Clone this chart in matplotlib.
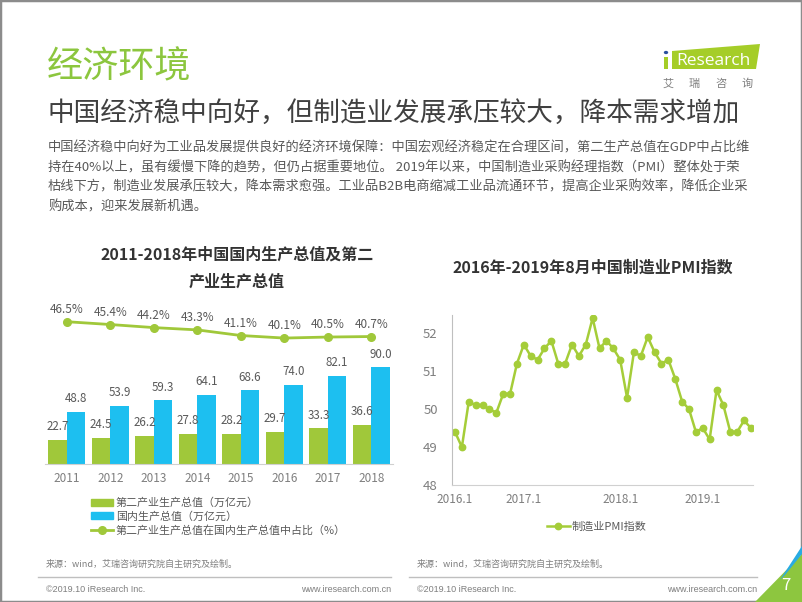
import matplotlib
matplotlib.use("Agg")
import matplotlib.pyplot as plt
from matplotlib.patches import Polygon, Rectangle, Circle, Patch
from matplotlib.lines import Line2D

plt.rcParams["font.family"] = ["Noto Sans CJK SC", "DejaVu Sans"]

W, H = 802, 602

# --- data: left chart (万亿元 / %)
YEARS = ["2011", "2012", "2013", "2014", "2015", "2016", "2017", "2018"]
SECONDARY = [22.7, 24.5, 26.2, 27.8, 28.2, 29.7, 33.3, 36.6]
GDP = [48.8, 53.9, 59.3, 64.1, 68.6, 74.0, 82.1, 90.0]
SHARE = [46.5, 45.4, 44.2, 43.3, 41.1, 40.1, 40.5, 40.7]

# --- data: right chart, monthly PMI 2016.1 - 2019.8
PMI = [49.4, 49.0, 50.2, 50.1, 50.1, 50.0, 49.9, 50.4, 50.4, 51.2, 51.7, 51.4,
       51.3, 51.6, 51.8, 51.2, 51.2, 51.7, 51.4, 51.7, 52.4, 51.6, 51.8, 51.6,
       51.3, 50.3, 51.5, 51.4, 51.9, 51.5, 51.2, 51.3, 50.8, 50.2, 50.0, 49.4,
       49.5, 49.2, 50.5, 50.1, 49.4, 49.4, 49.7, 49.5]
PMI_TICK_IDX = [0, 10, 24, 36]
PMI_TICK_LABELS = ["2016.1", "2017.1", "2018.1", "2019.1"]

BODY_LINES = [
    "中国经济稳中向好为工业品发展提供良好的经济环境保障：中国宏观经济稳定在合理区间，第二生产总值在GDP中占比维",
    "持在40%以上，虽有缓慢下降的趋势，但仍占据重要地位。 2019年以来，中国制造业采购经理指数（PMI）整体处于荣",
    "枯线下方，制造业发展承压较大，降本需求愈强。工业品B2B电商缩减工业品流通环节，提高企业采购效率，降低企业采",
    "购成本，迎来发展新机遇。",
]

GREEN = "#A0C83A"
LIME = "#8CC63E"
BLUE = "#1DBFF0"
DARK = "#404040"
BODY = "#595959"
GRAY = "#7F7F7F"
AXIS = "#D0D0D0"


def fx(x):
    return x / W


def fy(y):
    return 1 - y / H


fig = plt.figure(figsize=(W / 100, H / 100), dpi=100)

# slide frame
fig.patches.append(Rectangle((0, 0), 1, 1, transform=fig.transFigure, fill=False,
                             edgecolor="#8C8C8C", lw=2.5))

# header
fig.text(fx(47), fy(67), "经济环境", fontsize=26, color=LIME, va="center", ha="left",
         fontweight="light")
fig.text(fx(47), fy(113), "中国经济稳中向好，但制造业发展承压较大，降本需求增加",
         fontsize=19.2, color=DARK, va="center", ha="left", fontweight="light")
for i, line in enumerate(BODY_LINES):
    fig.text(fx(48), fy(148.3 + i * 19.5), line, fontsize=9.5, color=BODY,
             va="center", ha="left")

# logo
fig.patches.append(Polygon([(fx(672), fy(51)), (fx(760), fy(44)), (fx(756), fy(69)),
                            (fx(672), fy(69))], closed=True, transform=fig.transFigure,
                           facecolor="#A5CD28", edgecolor="none"))
fig.patches.append(Rectangle((fx(664), fy(69)), 4 / W, 12 / H, transform=fig.transFigure,
                             facecolor="#A5CD28", edgecolor="none"))
fig.patches.append(Circle((fx(666), fy(52.5)), 2.2 / W, transform=fig.transFigure,
                          facecolor="#2A4FA0", edgecolor="none"))
fig.text(fx(713.5), fy(61), "Research", fontsize=12.5, color="white", family="Open Sans",
         ha="center", va="center")
for i, ch in enumerate("艾瑞咨询"):
    fig.text(fx(668 + i * 26.5), fy(83.5), ch, fontsize=8, color=GRAY,
             ha="center", va="center")

# ---------------- left chart
fig.text(fx(237), fy(255), "2011-2018年中国国内生产总值及第二", fontsize=11.5,
         fontweight="bold", color="#333333", ha="center", va="center")
fig.text(fx(237), fy(281.7), "产业生产总值", fontsize=11.5,
         fontweight="bold", color="#333333", ha="center", va="center")

ax = fig.add_axes([fx(45), fy(464), (393 - 45) / W, (464 - 300) / H])
x = list(range(len(YEARS)))
w = 0.42
b1 = ax.bar([i - w / 2 for i in x], SECONDARY, w, color=GREEN, zorder=2)
b2 = ax.bar([i + w / 2 for i in x], GDP, w, color=BLUE, zorder=2)
for i, v in zip(x, SECONDARY):
    ax.annotate(f"{v:.1f}", (i - w / 2, v), xytext=(0, 9.5), textcoords="offset points",
                ha="center", va="center", fontsize=8.3, color=BODY)
for i, v in zip(x, GDP):
    ax.annotate(f"{v:.1f}", (i + w / 2, v), xytext=(0, 9.5), textcoords="offset points",
                ha="center", va="center", fontsize=8.3, color=BODY)
ax.set_xlim(-0.5, 7.5)
ax.set_ylim(0, 152.7)
ax.set_xticks(x, YEARS)
ax.set_yticks([])
ax.tick_params(axis="x", length=0, pad=6, labelsize=8.5, labelcolor=GRAY)
for s in ["left", "right", "top"]:
    ax.spines[s].set_visible(False)
ax.spines["bottom"].set_color(AXIS)
ax.patch.set_alpha(0)

ax2 = ax.twinx()
ln, = ax2.plot(x, SHARE, color=GREEN, lw=2, marker="o", markersize=5.5, zorder=3)
for i, v in zip(x, SHARE):
    ax2.annotate(f"{v:.1f}%", (i, v), xytext=(0, 9), textcoords="offset points",
                 ha="center", va="center", fontsize=8.5, color=BODY)
ax2.set_ylim(-9.2, 55.0)
ax2.set_yticks([])
for s in ax2.spines.values():
    s.set_visible(False)

fig.legend(handles=[Patch(color=GREEN), Patch(color=BLUE),
                    Line2D([0], [0], color=GREEN, lw=2, marker="o", markersize=5.5)],
           labels=["第二产业生产总值（万亿元）", "国内生产总值（万亿元）",
                   "第二产业生产总值在国内生产总值中占比（%）"],
           loc="upper left", bbox_to_anchor=(fx(86), fy(492)), frameon=False,
           fontsize=7.9, handlelength=2.0, handleheight=0.6, handletextpad=0.2,
           labelspacing=0.28, labelcolor=BODY, borderpad=0)

# ---------------- right chart
fig.text(fx(593), fy(268), "2016年-2019年8月中国制造业PMI指数", fontsize=11.5,
         fontweight="bold", color="#333333", ha="center", va="center")

axp = fig.add_axes([fx(451.7), fy(485), (753 - 451.7) / W, (485 - 315) / H])
pl, = axp.plot(range(len(PMI)), PMI, color="#A5CD39", lw=1.8, marker="o",
               markersize=4.6)
axp.set_xlim(-0.48, 43.3)
axp.set_ylim(48, 52.48)
axp.set_yticks([48, 49, 50, 51, 52])
axp.set_xticks(PMI_TICK_IDX, PMI_TICK_LABELS)
axp.tick_params(length=0, labelcolor=GRAY)
axp.tick_params(axis="x", pad=6, labelsize=8.5)
axp.tick_params(axis="y", pad=10, labelsize=9.5)
for s in ["right", "top"]:
    axp.spines[s].set_visible(False)
axp.spines["left"].set_color("#BFBFBF")
axp.spines["bottom"].set_color(AXIS)
axp.patch.set_alpha(0)
axp.legend(handles=[Line2D([0], [0], color="#A5CD39", lw=1.8, marker="o", markersize=4.6)],
           labels=["制造业PMI指数"], loc="center", bbox_to_anchor=(fx(597), fy(527)),
           bbox_transform=fig.transFigure, frameon=False, fontsize=8, handlelength=2.0,
           handletextpad=0.2, labelcolor=BODY)

# ---------------- footer
for x0, x1 in [(38, 391), (409, 757)]:
    fig.lines.append(Line2D([fx(x0), fx(x1)], [fy(577), fy(577)], transform=fig.transFigure,
                            color="#BFBFBF", lw=1))
    fig.text(fx(x0 + 8), fy(564), "来源：wind，艾瑞咨询研究院自主研究及绘制。", fontsize=6.5,
             color=GRAY, ha="left", va="center")
    fig.text(fx(x0 + 8), fy(589), "©2019.10 iResearch Inc.", fontsize=6.5, color=GRAY,
             ha="left", va="center", family="Liberation Sans")
    fig.text(fx(x1), fy(589), "www.iresearch.com.cn", fontsize=6.5, color=GRAY,
             ha="right", va="center", family="Liberation Sans")

fig.patches.append(Polygon([(fx(755), fy(602)), (fx(802), fy(602)), (fx(802), fy(554))],
                           closed=True, transform=fig.transFigure,
                           facecolor="#8DC63F", edgecolor="none"))
fig.patches.append(Polygon([(fx(780), fy(580)), (fx(802), fy(546)), (fx(802), fy(554)),
                            (fx(785), fy(575))], closed=True, transform=fig.transFigure,
                           facecolor="#29ABE2", edgecolor="none"))
fig.text(fx(786), fy(585), "7", fontsize=12, color="white", ha="center", va="center")

fig.savefig("out.png", dpi=100)
